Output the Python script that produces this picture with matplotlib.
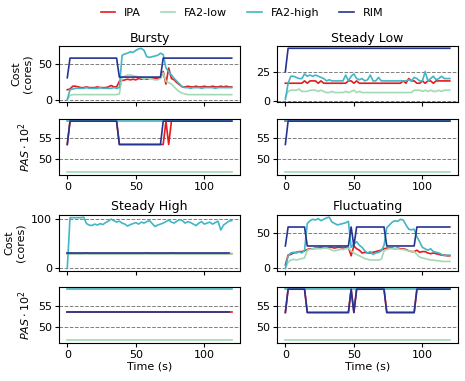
import numpy as np
import matplotlib
matplotlib.use("Agg")
import matplotlib.pyplot as plt

plt.rcParams['font.size'] = 8

# time grid (s), one sample every 2 s
t = np.arange(0, 121, 2)

names = ["IPA", "FA2-low", "FA2-high", "RIM"]
colors = ["#e41a1c", "#a1dab4", "#41b6c4", "#253494"]

# ---------------- Bursty ----------------
bursty_cost_ipa = [14, 15, 19, 19, 18, 17, 17, 18, 17, 17, 17, 18, 17, 17, 17, 18, 20, 18, 18,
                   26, 27, 28, 29, 28, 29, 28, 30, 29, 30, 29, 30, 31, 30, 30, 31,
                   40, 22, 45, 30, 28, 24, 21, 18,
                   18, 19, 18, 18, 19, 18, 18, 19, 18, 18, 19, 18, 18, 19, 18, 19, 18, 18]
bursty_cost_low = [0, 6, 7, 7, 7, 7, 7, 7, 7, 7, 7, 7, 7, 7, 7, 7, 7, 7, 7,
                   8, 32, 33, 35, 35, 34, 33, 32, 31, 30, 31, 30, 29, 28, 28, 30,
                   38, 26, 24, 22, 18, 14, 11, 9, 8,
                   7, 7, 7, 7, 7, 7, 7, 7, 7, 7, 7, 7, 7, 7, 7, 7, 7]
bursty_cost_high = [0, 14, 15, 16, 16, 16, 16, 17, 16, 16, 16, 16, 17, 16, 16, 16, 16, 17, 16,
                    17, 63, 65, 66, 68, 67, 70, 72, 73, 70, 61, 60, 61, 62, 63, 66,
                    64, 45, 40, 35, 30, 26, 22, 18,
                    17, 17, 16, 17, 17, 17, 16, 17, 17, 17, 17, 16, 17, 17, 17, 17, 17, 17]
bursty_cost_rim = [31] + [59] * 18 + [32] * 16 + [59] * 26

bursty_pas_ipa = [53.5] + [59] * 18 + [53.5] * 17 + [59, 53.5, 59] + [59] * 22
bursty_pas_low = [46.9] * 61
bursty_pas_high = [59] * 61
bursty_pas_rim = [53.5] + [59] * 18 + [53.5] * 16 + [59] * 26

# ---------------- Steady Low ----------------
slow_cost_ipa = [15, 15, 15, 15, 15, 15, 15, 17, 15, 17, 17, 17, 15, 17, 15, 15, 15, 15, 15,
                 15, 15, 15, 15, 17, 17, 15, 17, 15, 15, 15, 15, 15, 15, 15, 15,
                 15, 15, 15, 15, 15, 15, 15, 15, 17, 15, 19, 17, 17, 15, 15, 17,
                 15, 17, 17, 15, 17, 17, 17, 17, 17, 17]
slow_cost_low = [3, 8, 9, 9, 9, 10, 8, 8, 8, 9, 9, 9, 8, 9, 8, 7, 7, 8, 7,
                 7, 7, 7, 8, 7, 8, 9, 7, 8, 7, 7, 7, 7, 7, 7, 7,
                 7, 7, 7, 7, 7, 7, 7, 7, 7, 7, 7, 7, 9, 9, 9, 8,
                 9, 8, 9, 8, 8, 9, 8, 9, 9, 9]
slow_cost_high = [1, 15, 21, 21, 20, 19, 19, 23, 21, 22, 21, 22, 21, 20, 19, 17, 18, 17, 17,
                  17, 17, 17, 22, 17, 21, 23, 19, 18, 19, 17, 18, 22, 17, 17, 20,
                  17, 17, 17, 17, 17, 17, 17, 17, 17, 17, 18, 17, 20, 19, 17, 17,
                  25, 17, 19, 21, 18, 19, 21, 19, 19, 19]
slow_cost_rim = [25] + [45] * 60

slow_pas_ipa = [59] * 61
slow_pas_low = [46.9] * 61
slow_pas_high = [59] * 61
slow_pas_rim = [53.5] + [59] * 60

# ---------------- Steady High ----------------
shigh_cost_ipa = [30, 30, 30, 30, 30, 30, 30, 31, 30, 30, 30, 30, 30, 30, 30, 30, 30, 30, 30,
                  30, 30, 30, 30, 30, 30, 30, 30, 30, 30, 31, 30, 30, 30, 30, 30,
                  30, 30, 30, 31, 30, 30, 30, 30, 30, 30, 30, 30, 30, 30, 30, 30,
                  30, 30, 30, 30, 30, 30, 30, 30, 30, 30]
shigh_cost_low = [29] * 61
shigh_cost_high = [0, 103, 103, 103, 103, 103, 104, 91, 88, 87, 90, 88, 91, 89, 93, 96, 100, 97, 94,
                   96, 92, 90, 86, 89, 91, 93, 90, 94, 92, 95, 97, 91, 85, 88, 90,
                   92, 95, 98, 94, 92, 96, 99, 97, 92, 95, 93, 90, 87, 92, 95, 90,
                   92, 94, 90, 93, 96, 78, 88, 92, 96, 97]
shigh_cost_rim = [32] * 60 + [np.nan]

shigh_pas_ipa = [53.5] * 61
shigh_pas_low = [46.9] * 61
shigh_pas_high = [59] * 61
shigh_pas_rim = [53.5] * 60 + [np.nan]

# ---------------- Fluctuating ----------------
fluct_cost_ipa = [5, 19, 20, 22, 23, 24, 24, 25, 27, 28, 28, 29, 29, 30, 30, 29, 30, 30, 29,
                  30, 30, 29, 30, 30, 18, 32, 28, 26, 22, 23, 22, 22, 23, 24, 25,
                  26, 28, 29, 29, 29, 28, 29, 28, 28, 27, 25, 24, 24, 26, 23, 24,
                  24, 22, 21, 22, 21, 20, 19, 19, 18, 18]
fluct_cost_low = [0, 9, 12, 13, 12, 13, 14, 15, 26, 27, 28, 28, 28, 28, 29, 29, 28, 26, 25,
                  26, 27, 27, 28, 29, 25, 22, 20, 18, 16, 14, 13, 12, 12, 12, 12,
                  13, 25, 27, 28, 28, 28, 28, 27, 27, 26, 25, 24, 24, 20, 16, 15,
                  14, 13, 12, 12, 11, 11, 10, 10, 10, 10]
fluct_cost_high = [0, 18, 22, 23, 22, 24, 22, 26, 64, 68, 70, 69, 71, 68, 70, 72, 73, 66, 64,
                   62, 63, 64, 65, 67, 30, 35, 38, 33, 30, 25, 22, 24, 20, 22, 23,
                   25, 33, 58, 62, 66, 68, 67, 70, 69, 62, 56, 55, 56, 45, 38, 30,
                   28, 26, 28, 24, 23, 22, 20, 18, 19, 19]
fluct_cost_rim = [32] + [59] * 7 + [32] * 16 + [59, 32] + [59] * 11 + [32] * 11 + [59] * 13

fluct_pas_ipa = [53.5] + [59] * 7 + [53.5] * 16 + [59, 53.5] + [59] * 11 + [53.5] * 11 + [59] * 13
fluct_pas_low = [46.9] * 61
fluct_pas_high = [59] * 61
fluct_pas_rim = [53.5] + [59] * 7 + [53.5] * 16 + [59, 53.5] + [59] * 11 + [53.5] * 11 + [59] * 13

panels = [
    ("Bursty", [bursty_cost_ipa, bursty_cost_low, bursty_cost_high, bursty_cost_rim],
     [bursty_pas_ipa, bursty_pas_low, bursty_pas_high, bursty_pas_rim], [0, 50]),
    ("Steady Low", [slow_cost_ipa, slow_cost_low, slow_cost_high, slow_cost_rim],
     [slow_pas_ipa, slow_pas_low, slow_pas_high, slow_pas_rim], [0, 25]),
    ("Steady High", [shigh_cost_ipa, shigh_cost_low, shigh_cost_high, shigh_cost_rim],
     [shigh_pas_ipa, shigh_pas_low, shigh_pas_high, shigh_pas_rim], [0, 100]),
    ("Fluctuating", [fluct_cost_ipa, fluct_cost_low, fluct_cost_high, fluct_cost_rim],
     [fluct_pas_ipa, fluct_pas_low, fluct_pas_high, fluct_pas_rim], [0, 50]),
]

fig = plt.figure(figsize=(4.65, 3.81), dpi=100)

lefts = [0.127, 0.596]
width = 0.389
# (cost bottom, pas bottom) for the two pairs of rows
row_bottoms = [(0.732, 0.5407), (0.2887, 0.0997)]
h = 0.148

for i, (title, cost, pas, cticks) in enumerate(panels):
    col = i % 2
    row = i // 2
    ax_c = fig.add_axes([lefts[col], row_bottoms[row][0], width, h])
    ax_p = fig.add_axes([lefts[col], row_bottoms[row][1], width, h])

    for k in range(4):
        ax_c.plot(t, cost[k], color=colors[k], lw=1.2, label=names[k])
        ax_p.plot(t, pas[k], color=colors[k], lw=1.2)

    ax_c.set_title(title, fontsize=9, pad=3)
    ax_c.set_yticks(cticks)
    ax_p.set_yticks([50, 55])
    for ax in (ax_c, ax_p):
        ax.set_xticks([0, 50, 100])
        ax.yaxis.grid(True, ls='--', color='gray', lw=0.7)
        ax.tick_params(labelsize=8, length=3, pad=2)
    ax_c.set_xticklabels([])

    if col == 0:
        ax_c.set_ylabel("Cost\n(cores)", fontsize=8)
        ax_p.set_ylabel(r"$PAS \cdot 10^2$", fontsize=8)
    if row == 1:
        ax_p.set_xlabel("Time (s)", fontsize=8, labelpad=1)

    if i == 0:
        handles, labels = ax_c.get_legend_handles_labels()

fig.legend(handles, labels, loc='center', bbox_to_anchor=(0.52, 0.965), ncol=4,
           frameon=False, fontsize=8, handlelength=1.3, columnspacing=1.8)

fig.savefig("out.png", dpi=100)
